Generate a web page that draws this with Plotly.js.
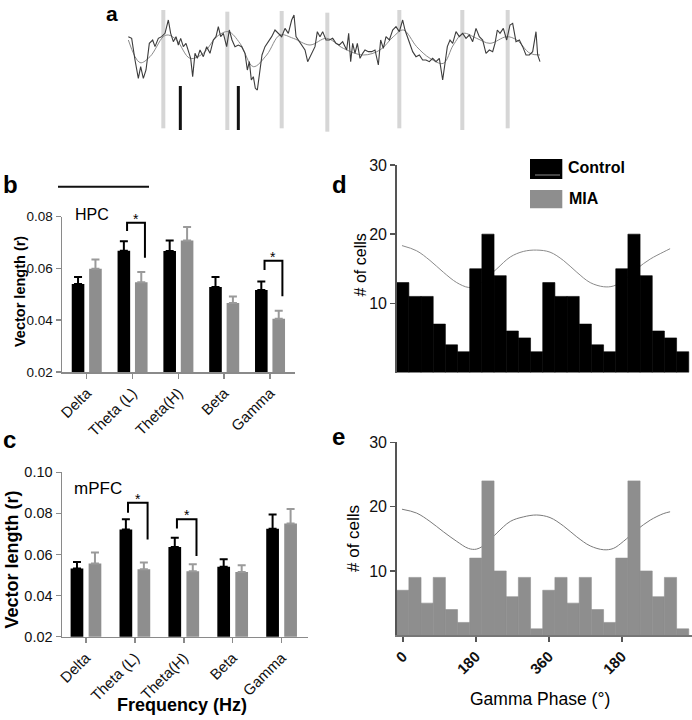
<!DOCTYPE html>
<html><head><meta charset="utf-8">
<script src="https://cdn.plot.ly/plotly-3.0.1.min.js"></script>
<style>html,body{margin:0;padding:0;background:#fff}</style>
</head><body><div id="chart" style="width:692px;height:720px"></div>
<script>
// ---------- Panel a : example LFP trace (arbitrary units) ----------
const rawT = [55,65,75,85,92,100,108,118,128,135,145,155,165,175,182,190,198,205,212,220,228,235,242,248,255,262,270,280,290,300,310,318,325,332,340,350,358,366,375,385,395,405,412,418,424,430,436,442,448,456,465,475,485,495,505,515,525,535,545,552,558,565,575,585,593,600,608,615,622,630,638,648,658,668,678,688,698,710,716,722,728,735,742,750,758,765,775,785,795,805,812,820,828,838,848,858,868,878,885,892,900,908,918,928,938,948,958,968,978,988,998,1005,1012,1020,1028,1038,1048,1058,1068,1078,1088,1098,1108,1118,1128,1138,1148,1155,1162,1170,1180,1190,1200,1208,1218,1228,1238,1248,1258,1268,1278,1283,1290];
const rawV = [110,115,180,235,200,235,210,130,120,140,115,110,100,60,100,125,110,135,115,140,130,150,175,230,160,175,150,170,140,160,120,110,80,110,100,140,90,120,140,135,140,160,210,185,240,230,265,270,220,165,140,125,110,90,100,110,85,100,60,45,110,120,135,150,185,170,150,140,95,110,95,120,120,115,130,135,125,150,100,185,130,160,130,175,160,150,155,155,150,195,120,145,110,120,90,80,95,60,90,110,130,155,170,165,180,180,185,175,185,175,240,185,140,120,130,95,110,100,115,105,125,85,110,120,160,150,155,130,90,100,85,120,75,70,125,120,140,165,165,155,95,165,185];
const fitT = [55,90,120,160,175,200,240,280,320,355,390,430,470,510,550,600,650,700,760,810,850,880,920,960,1000,1030,1060,1100,1140,1190,1220,1260,1290];
const fitV = [120,188,170,110,105,120,175,160,110,95,130,200,165,105,115,135,115,145,165,150,110,90,140,175,190,135,100,115,130,110,120,160,165];
const spikeT = [160,352,515,652,868,1057,1193];
const spikeTop = [30,35,33,38,30,30,30];
const spikeBottom = [385,390,385,395,385,390,385];
const markT = [211,385];
const markTop = [258,258];
const markBottom = [390,390];
const scaleBarT = [-156,117];
const scaleBarV = [560,560];

// ---------- Panels b, c : vector length ----------
const bands = ['Delta','Theta (L)','Theta(H)','Beta','Gamma'];
const bandIdx = [0,1,2,3,4];
const hpcControl = [0.0540,0.0668,0.0667,0.0528,0.0517];
const hpcControlSem = [0.0027,0.0037,0.0041,0.0039,0.0033];
const hpcMIA = [0.0599,0.0547,0.0708,0.0467,0.0406];
const hpcMIASem = [0.0036,0.0039,0.0052,0.0025,0.0031];
const hpcSigBand = [1,4];
const hpcSigTop = [0.0777,0.0630];
const hpcSigLeft = [0.0745,0.0594];
const hpcSigRight = [0.0641,0.0493];

const pfcControl = [0.0532,0.0722,0.0637,0.0540,0.0725];
const pfcControlSem = [0.0032,0.0050,0.0044,0.0037,0.0070];
const pfcMIA = [0.0556,0.0528,0.0519,0.0515,0.0751];
const pfcMIASem = [0.0054,0.0033,0.0034,0.0033,0.0070];
const pfcSigBand = [1,2];
const pfcSigTop = [0.0852,0.0771];
const pfcSigLeft = [0.0803,0.0727];
const pfcSigRight = [0.0673,0.0593];

// ---------- Panels d, e : gamma phase histograms ----------
const phaseBins = [0,30,60,90,120,150,180,210,240,270,300,330,360,390,420,450,480,510,540,570,600,630,660,690];
const controlCells = [13,11,11,7,4,3,15,20,14,6,5,3,13,11,11,7,4,3,15,20,14,6,5,3];
const miaCells = [7,9,5,9,4,2,12,24,10,6,9,1,7,9,5,9,4,2,12,24,10,6,9,1];
const fitPhase = [-2,34,67,100,133,162,182,207,232,265,297,330,363,396,429,462,495,519,544,577,610,642,659];
const controlFit = [18.35,17.6,16.2,14.5,13.0,12.3,12.5,13.7,15.0,16.7,17.5,17.7,17.4,16.2,14.5,13.0,12.4,12.5,13.3,15.0,16.4,17.4,17.9];
const miaFit = [19.6,19.0,17.7,16.1,14.6,13.5,13.4,14.3,15.9,17.7,18.4,18.7,18.3,17.0,15.3,13.9,13.3,13.5,14.6,16.4,17.9,18.9,19.2];
const phaseTicks = [0,180,360,540];
const phaseTickText = ['0','180','360','180'];

// ---------- helpers ----------
const W = 692, H = 720;
const px = p => p / W;
const py = p => 1 - p / H;
const FONT = 'Liberation Sans, Arial, Helvetica, sans-serif';
const BLACK = '#000000', GRAY = '#8e8e8e', GRAYERR = '#9a9a9a';

function segs(xs, y0, y1) {
  const X = [], Y = [];
  xs.forEach((x, i) => { X.push(x, x, null); Y.push(y0[i], y1[i], null); });
  return {X, Y};
}

const traces = [];
// panel a
const sp = segs(spikeT, spikeTop, spikeBottom);
traces.push({type:'scatter', mode:'lines', x:sp.X, y:sp.Y, xaxis:'x', yaxis:'y',
  line:{color:'#d6d6d6', width:4}, hoverinfo:'skip'});
const mk = segs(markT, markTop, markBottom);
traces.push({type:'scatter', mode:'lines', x:mk.X, y:mk.Y, xaxis:'x', yaxis:'y',
  line:{color:'#111', width:3}, hoverinfo:'skip'});
traces.push({type:'scatter', mode:'lines', x:fitT, y:fitV, xaxis:'x', yaxis:'y',
  line:{color:'#8a8a8a', width:1, shape:'spline'}, hoverinfo:'skip'});
traces.push({type:'scatter', mode:'lines', x:rawT, y:rawV, xaxis:'x', yaxis:'y',
  line:{color:'#3c3c3c', width:1.1}, hoverinfo:'skip'});
traces.push({type:'scatter', mode:'lines', x:scaleBarT, y:scaleBarV, xaxis:'x', yaxis:'y',
  line:{color:'#111', width:2}, hoverinfo:'skip'});

function barPanel(xa, ya, ctrl, ctrlSem, mia, miaSem, bw, off) {
  const zeros = ctrl.map(() => 0);
  traces.push({type:'bar', x:bandIdx, y:ctrl, xaxis:xa, yaxis:ya, width:bw, offset:-off - bw/2,
    marker:{color:BLACK, line:{width:0}},
    error_y:{type:'data', symmetric:false, array:ctrlSem, arrayminus:zeros, color:BLACK, thickness:2, width:4},
    hoverinfo:'skip'});
  traces.push({type:'bar', x:bandIdx, y:mia, xaxis:xa, yaxis:ya, width:bw, offset:off - bw/2,
    marker:{color:GRAY, line:{width:0}},
    error_y:{type:'data', symmetric:false, array:miaSem, arrayminus:zeros, color:GRAYERR, thickness:2, width:4},
    hoverinfo:'skip'});
}
barPanel('x2','y2', hpcControl, hpcControlSem, hpcMIA, hpcMIASem, 0.275, 0.19);
barPanel('x3','y3', pfcControl, pfcControlSem, pfcMIA, pfcMIASem, 0.26, 0.184);

const annotations = [];
function brackets(xa, ya, band, top, left, right, L, R) {
  band.forEach((b, i) => {
    traces.push({type:'scatter', mode:'lines', xaxis:xa, yaxis:ya,
      x:[b+L, b+L, b+R, b+R], y:[left[i], top[i], top[i], right[i]],
      line:{color:'#000', width:2}, hoverinfo:'skip'});
    annotations.push({text:'*', x:b+(L+R)/2, y:top[i], xref:xa, yref:ya, showarrow:false,
      yanchor:'middle', yshift:4, font:{size:14, color:'#000'}});
  });
}
brackets('x2','y2', hpcSigBand, hpcSigTop, hpcSigLeft, hpcSigRight, -0.12, 0.27);
brackets('x3','y3', pfcSigBand, pfcSigTop, pfcSigLeft, pfcSigRight, -0.14, 0.26);

// panel d
traces.push({type:'scatter', mode:'lines', x:fitPhase, y:controlFit, xaxis:'x4', yaxis:'y4',
  line:{color:'#8a8a8a', width:1, shape:'spline'}, hoverinfo:'skip'});
traces.push({type:'bar', x:phaseBins, y:controlCells, xaxis:'x4', yaxis:'y6', width:30,
  marker:{color:BLACK, line:{width:0.6, color:BLACK}}, hoverinfo:'skip'});
// panel e
traces.push({type:'scatter', mode:'lines', x:fitPhase, y:miaFit, xaxis:'x5', yaxis:'y5',
  line:{color:'#7a7a7a', width:1, shape:'spline'}, hoverinfo:'skip'});
traces.push({type:'bar', x:phaseBins, y:miaCells, xaxis:'x5', yaxis:'y7', width:30,
  marker:{color:GRAY, line:{width:0.6, color:GRAY}}, hoverinfo:'skip'});

// ---------- text ----------
function ann(text, x, y, size, opts) {
  annotations.push(Object.assign({text, x:px(x), y:py(y), xref:'paper', yref:'paper', showarrow:false,
    xanchor:'left', yanchor:'middle', font:{size, color:'#000', family:FONT}}, opts || {}));
}
ann('<b>a</b>', 104, 0, 21, {yanchor:'top'});
ann('<b>b</b>', 1, 184.6, 24);
ann('<b>c</b>', 1, 439.6, 24);
ann('<b>d</b>', 330, 184.6, 24);
ann('<b>e</b>', 330, 436.6, 24);
ann('HPC', 72.5, 214.4, 16);
ann('mPFC', 71.5, 488, 17);
ann('<b>Control</b>', 566, 167.3, 16);
ann('<b>MIA</b>', 567, 198.4, 16);
ann('<b>Vector length (r)</b>', 20, 292, 14.5, {xanchor:'center', textangle:-90});
ann('<b>Vector length (r)</b>', 11.5, 560, 18, {xanchor:'center', textangle:-90});
ann('<b>Frequency (Hz)</b>', 181.7, 705.4, 18, {xanchor:'center'});
ann('# of cells', 360.4, 265, 16, {xanchor:'center', textangle:-90});
ann('# of cells', 353, 539, 17, {xanchor:'center', textangle:-90});
ann('Gamma Phase (°)', 540, 699, 17.5, {xanchor:'center'});

const shapes = [
  {type:'rect', xref:'paper', yref:'paper', x0:px(530), x1:px(562.3), y0:py(179), y1:py(159),
   fillcolor:'#000', line:{width:0}},
  {type:'line', xref:'paper', yref:'paper', x0:px(535), x1:px(560), y0:py(175), y1:py(175),
   line:{color:'#8a8a8a', width:1}},
  {type:'rect', xref:'paper', yref:'paper', x0:px(530), x1:px(562.3), y0:py(208.3), y1:py(190),
   fillcolor:GRAY, line:{width:0}}
];

const axCommon = {showgrid:false, zeroline:false, fixedrange:true};
const layout = {
  width:W, height:H, margin:{l:0, r:0, t:0, b:0}, showlegend:false,
  paper_bgcolor:'#fff', plot_bgcolor:'rgba(0,0,0,0)',
  font:{family:FONT, color:'#111'},
  barmode:'overlay',
  xaxis:Object.assign({}, axCommon, {domain:[px(50), px(550)], range:[-180,1320], visible:false, anchor:'y'}),
  yaxis:Object.assign({}, axCommon, {domain:[py(195), py(0)], range:[585,0], visible:false, anchor:'x'}),

  xaxis2:Object.assign({}, axCommon, {domain:[px(62), px(295)], range:[-0.54,4.545], anchor:'y2',
    showline:true, linecolor:'#8a8a8a', linewidth:1.5, ticks:'outside', ticklen:5, tickwidth:1.5, tickcolor:'#8a8a8a',
    tickvals:bandIdx, ticktext:bands, tickangle:-45, tickfont:{size:15, color:'#111'}}),
  yaxis2:Object.assign({}, axCommon, {domain:[py(372), py(216.7)], range:[0.02,0.08], anchor:'x2',
    showline:true, linecolor:'#8a8a8a', linewidth:1.5, ticks:'outside', ticklen:5, tickwidth:1.5, tickcolor:'#8a8a8a',
    tickvals:[0.02,0.04,0.06,0.08], tickformat:'.2f', tickfont:{size:13.5, color:'#111'}}),

  xaxis3:Object.assign({}, axCommon, {domain:[px(62), px(308)], range:[-0.49,4.54], anchor:'y3',
    showline:true, linecolor:'#8a8a8a', linewidth:1.5, ticks:'outside', ticklen:5, tickwidth:1.5, tickcolor:'#8a8a8a',
    tickvals:bandIdx, ticktext:bands, tickangle:-45, tickfont:{size:15, color:'#111'}}),
  yaxis3:Object.assign({}, axCommon, {domain:[py(636.7), py(472.3)], range:[0.02,0.10], anchor:'x3',
    showline:true, linecolor:'#8a8a8a', linewidth:1.5, ticks:'outside', ticklen:5, tickwidth:1.5, tickcolor:'#8a8a8a',
    tickvals:[0.02,0.04,0.06,0.08,0.10], tickformat:'.2f', tickfont:{size:14.5, color:'#111'}}),

  xaxis4:Object.assign({}, axCommon, {domain:[px(396.7), 1], range:[-15,713], anchor:'y4', visible:false}),
  yaxis4:Object.assign({}, axCommon, {domain:[py(372.5), py(165)], range:[0,30], anchor:'x4',
    showline:true, linecolor:'#555', linewidth:1.5, ticks:'outside', ticklen:5, tickwidth:1.5, tickcolor:'#555',
    tickvals:[10,20,30], tickfont:{size:16, color:'#111'}}),
  yaxis6:Object.assign({}, axCommon, {overlaying:'y4', anchor:'x4', range:[0,30], visible:false}),

  xaxis5:Object.assign({}, axCommon, {domain:[px(396.7), 1], range:[-15,713], anchor:'y5',
    showline:true, linecolor:'#777', linewidth:1.5, ticks:'outside', ticklen:5, tickwidth:1.5, tickcolor:'#555',
    tickvals:phaseTicks, ticktext:phaseTickText, tickangle:-45, tickfont:{size:15, color:'#111', weight:'bold'}}),
  yaxis5:Object.assign({}, axCommon, {domain:[py(635.3), py(442.3)], range:[0,30], anchor:'x5',
    showline:true, linecolor:'#555', linewidth:1.5, ticks:'outside', ticklen:5, tickwidth:1.5, tickcolor:'#555',
    tickvals:[10,20,30], tickfont:{size:16, color:'#111'}}),
  yaxis7:Object.assign({}, axCommon, {overlaying:'y5', anchor:'x5', range:[0,30], visible:false}),

  annotations, shapes
};

Plotly.newPlot('chart', traces, layout, {displayModeBar:false, staticPlot:true});
</script></body></html>
